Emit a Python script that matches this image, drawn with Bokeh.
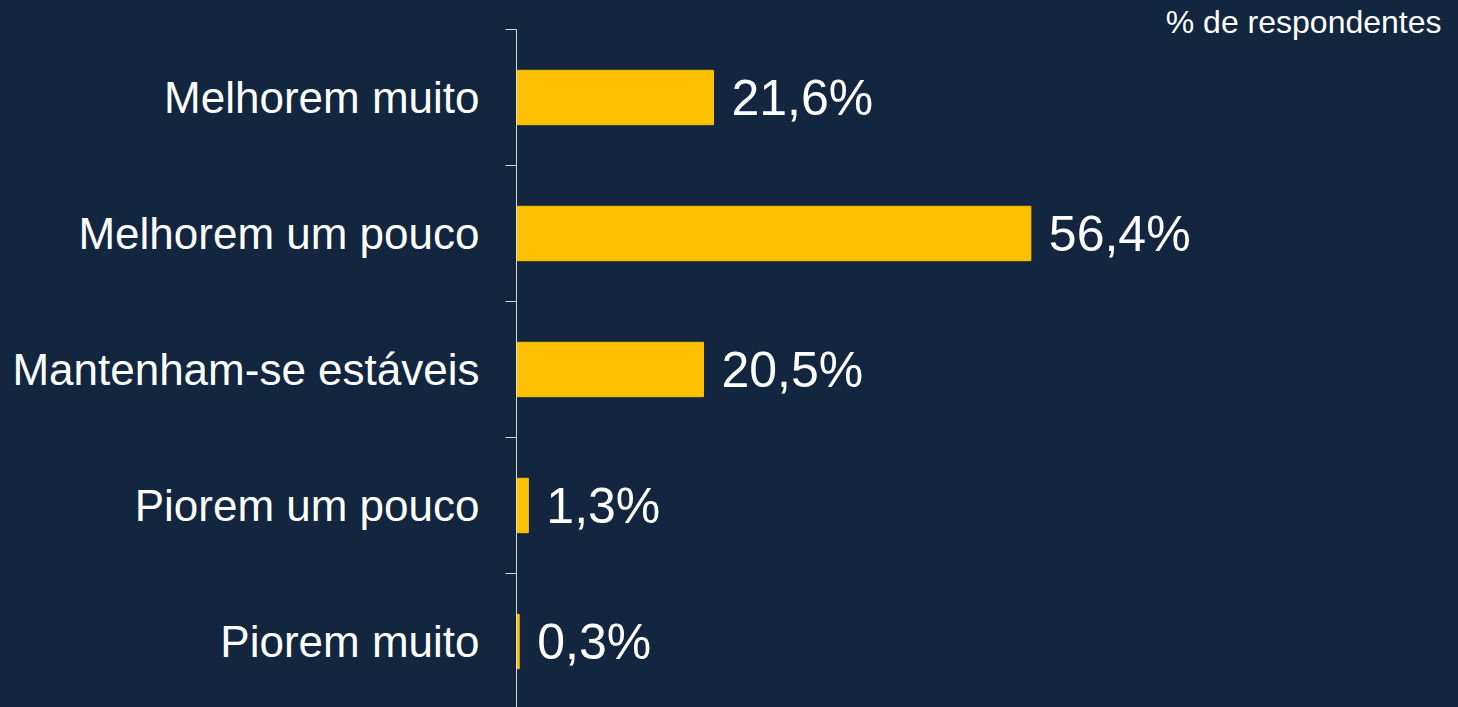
from bokeh.plotting import figure
from bokeh.models import ColumnDataSource, Range1d, FixedTicker, Label
from bokeh.embed import file_html
from bokeh.resources import INLINE
from bokeh.core.properties import value

categories = ["Melhorem muito", "Melhorem um pouco", "Mantenham-se estáveis",
              "Piorem um pouco", "Piorem muito"]
values = [21.6, 56.4, 20.5, 1.3, 0.3]
value_labels = ["21,6%", "56,4%", "20,5%", "1,3%", "0,3%"]
unit_note = "% de respondentes"

BG = "#12263F"
BAR = "#FFC000"
FONT = "Liberation Sans"

n = len(categories)
ys = [n - 1 - i for i in range(n)]
src = ColumnDataSource(dict(y=ys, v=values, lab=value_labels, cat=categories))

W, H = 1458, 707
left_px = 516
top_px = 29
px_per_cat = 136.0
px_per_pct = 9.12

y_top = (n - 0.5) + top_px / px_per_cat
y_bot = (n - 0.5) - (H - top_px) / px_per_cat
x_max = (W - left_px) / px_per_pct

p = figure(width=W, height=H, output_backend="svg", toolbar_location=None,
           x_axis_location=None, y_range=Range1d(y_bot, y_top),
           x_range=Range1d(0, x_max),
           min_border_left=left_px, min_border_right=0,
           min_border_top=0, min_border_bottom=0)
p.background_fill_color = BG
p.border_fill_color = BG
p.outline_line_color = None
p.grid.visible = False

p.hbar(y="y", right="v", left=0, height=0.4, color=BAR, source=src)
p.text(x="v", y="y", text="lab", source=src, x_offset=18,
       text_font=value(FONT), text_font_size="50px", text_color="white",
       text_align="left", text_baseline="middle")

ax = p.yaxis[0]
ax.ticker = FixedTicker(ticks=ys, minor_ticks=[k + 0.5 for k in range(n)])
ax.major_label_overrides = {y: c for y, c in zip(ys, categories)}
ax.bounds = (y_bot - 1, n - 0.5)
ax.axis_line_color = "#D9D9D9"
ax.axis_line_width = 1
ax.major_tick_out = 0
ax.major_tick_in = 0
ax.minor_tick_out = 11
ax.minor_tick_in = 0
ax.minor_tick_line_color = "#D9D9D9"
ax.major_label_standoff = 26
ax.major_label_text_font = FONT
ax.major_label_text_font_size = "44px"
ax.major_label_text_color = "white"

note = Label(x=(1441 - left_px) / px_per_pct, y=y_top - 21 / px_per_cat,
             text=unit_note, text_align="right", text_baseline="middle",
             text_font=FONT, text_font_size="32px", text_color="white")
p.add_layout(note)

html = file_html(p, INLINE)
style = ("<style>html, body { margin: 0 !important; padding: 0 !important; "
         "background: #12263F; overflow: hidden; }</style>")
html = html.replace("</head>", style + "</head>", 1)
open("out.html", "w").write(html)
